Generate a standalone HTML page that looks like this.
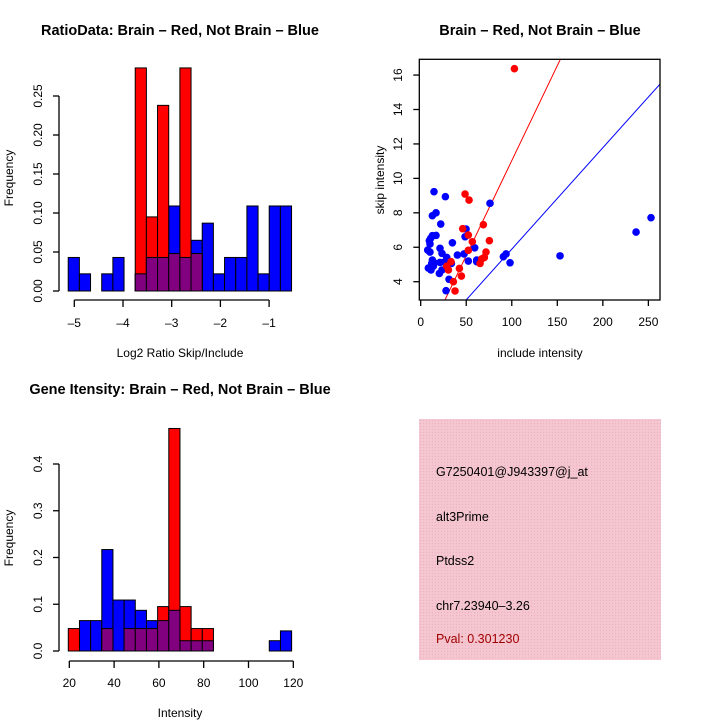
<!DOCTYPE html>
<html><head><meta charset="utf-8"><style>
body{margin:0;background:#fff;}
svg{display:block;font-family:"Liberation Sans",sans-serif;}
</style></head><body>
<svg id="c" width="720" height="720" viewBox="0 0 720 720" xmlns="http://www.w3.org/2000/svg">
<defs>
<pattern id="hatch" width="3" height="3" patternUnits="userSpaceOnUse">
<rect width="3" height="3" fill="#f5c6d0"/>
<rect width="1" height="1" fill="#e8b2c0"/>
</pattern>
</defs>
<g id="p1"></g>
<g id="p2"></g>
<g id="p3"></g>
<g id="p4">
<rect x="419" y="419" width="242" height="241" fill="url(#hatch)"/>
<text x="436" y="476" font-size="12.5">G7250401@J943397@j_at</text>
<text x="436" y="521" font-size="12.5">alt3Prime</text>
<text x="436" y="565" font-size="12.5">Ptdss2</text>
<text x="436" y="610" font-size="12.5">chr7.23940&#8211;3.26</text>
<text x="436" y="643" font-size="12.5" fill="#a00000">Pval: 0.301230</text>
</g>
</svg>
<script>
// ---- data ----
const ratioBinStart = -5.125;
const ratioBinWidth = 0.2293;
const ratioBlue = [0.043,0.022,0,0.022,0.043,0,0.022,0.043,0.043,0.109,0.043,0.065,0.087,0.022,0.043,0.043,0.109,0.022,0.109,0.109];
const ratioRed  = [0,0,0,0,0,0,0.286,0.095,0.238,0.048,0.286,0.048,0,0,0,0,0,0,0,0];
const ratioXTicks = [-5,-4,-3,-2,-1];
const ratioYTicks = [0,0.05,0.10,0.15,0.20,0.25];

const intBinStart = 19.55;
const intBinWidth = 4.985;
const intBlue = [0,0.065,0.065,0.217,0.109,0.109,0.087,0.065,0.065,0.087,0.022,0.022,0.022,0,0,0,0,0,0.022,0.043];
const intRed  = [0.048,0,0,0.048,0,0.048,0.048,0.048,0.095,0.476,0.095,0.048,0.048,0,0,0,0,0,0,0];
const intXTicks = [20,40,60,80,100,120];
const intYTicks = [0,0.1,0.2,0.3,0.4];

const blueX = [14.6,27.1,76.1,16.8,12.8,22.0,49.8,48.7,16.8,12.8,11.0,9.5,10.2,21.2,34.8,59.3,23.4,40.3,47.6,28.6,12.8,15.0,21.2,26.0,33.7,52.3,61.5,61.5,8.4,11.3,23.4,20.5,31.1,27.8,90.8,93.7,98.1,153,236.5,252.9,12.1,13.9,7.7,10.2];
const blueY = [9.23,8.94,8.55,8.0,7.83,7.35,7.06,6.61,6.69,6.67,6.52,6.38,5.72,5.94,6.26,5.97,5.64,5.55,5.61,5.41,5.26,5.10,5.12,5.14,5.06,5.2,5.16,5.26,4.79,4.68,4.68,4.48,4.14,3.48,5.45,5.61,5.1,5.5,6.88,7.72,5.06,4.9,5.84,6.19];
const redX = [102.9,48.7,53.1,46.1,68.8,52.3,75.4,56.7,52.3,71.7,69.9,67,65.2,33.3,30.4,42.5,44.7,35.9,37.7,28.6];
const redY = [16.37,9.09,8.74,7.08,7.31,6.71,6.38,6.32,5.82,5.72,5.41,5.32,5.06,5.16,4.68,4.77,4.33,4.0,3.46,4.9];
const redSlope = 0.1103;
const blueSlope = 0.0589;
const scatXTicks = [0,50,100,150,200,250];
const scatYTicks = [4,6,8,10,12,14,16];

// ---- helpers ----
const NS="http://www.w3.org/2000/svg";
function mk(parent,tag,attrs,txt){const e=document.createElementNS(NS,tag);for(const k in attrs)e.setAttribute(k,attrs[k]);if(txt!==undefined)e.textContent=txt;parent.appendChild(e);return e;}

function hist(g,cfg){
  const {binStart,binW,blue,red,xs,ys,xTicks,yTicks,yFmt,axisY,tickLblY,xlab,xlabY,title,titleY,titleX} = cfg;
  for(let i=0;i<blue.length;i++){
    const x0=xs(binStart+i*binW), x1=xs(binStart+(i+1)*binW);
    if(blue[i]>0){const r=mk(g,'rect',{x:x0,y:ys(blue[i]),width:x1-x0,height:ys(0)-ys(blue[i]),fill:'#0000ff',stroke:'#000','stroke-width':1});
      }
  }
  for(let i=0;i<red.length;i++){
    const x0=xs(binStart+i*binW), x1=xs(binStart+(i+1)*binW);
    if(red[i]>0){const r=mk(g,'rect',{x:x0,y:ys(red[i]),width:x1-x0,height:ys(0)-ys(red[i]),fill:'#ff0000',stroke:'#000','stroke-width':1});
      }
  }
  for(let i=0;i<red.length;i++){
    const m=Math.min(red[i],blue[i]);
    const x0=xs(binStart+i*binW), x1=xs(binStart+(i+1)*binW);
    if(m>0){const r=mk(g,'rect',{x:x0,y:ys(m),width:x1-x0,height:ys(0)-ys(m),fill:'#800080',stroke:'#000','stroke-width':1});
      }
  }
  // x axis
  const xa=mk(g,'g',{stroke:'#000','stroke-width':1.3,fill:'none'});
  
  mk(xa,'line',{x1:xs(xTicks[0]),x2:xs(xTicks[xTicks.length-1]),y1:axisY,y2:axisY});
  xTicks.forEach(t=>{mk(xa,'line',{x1:xs(t),x2:xs(t),y1:axisY,y2:axisY+7});
    const l=mk(g,'text',{x:xs(t),y:tickLblY,'font-size':12,'text-anchor':'middle'},t<0?'\u2013'+(-t):String(t));
    });
  // y axis
  const ya=mk(g,'g',{stroke:'#000','stroke-width':1.3,fill:'none'});
  
  mk(ya,'line',{x1:59,x2:59,y1:ys(yTicks[0]),y2:ys(yTicks[yTicks.length-1])});
  yTicks.forEach(t=>{mk(ya,'line',{x1:53,x2:59,y1:ys(t),y2:ys(t)});
    const l=mk(g,'text',{x:0,y:0,'font-size':12,'text-anchor':'middle',transform:`translate(42,${ys(t)}) rotate(-90)`},yFmt(t));
    });
  const yl=mk(g,'text',{x:0,y:0,'font-size':12,'text-anchor':'middle',transform:`translate(13,${cfg.ylabY}) rotate(-90)`},'Frequency');
  
  const xl=mk(g,'text',{x:cfg.xlabX,y:xlabY,'font-size':12,'text-anchor':'middle'},xlab);
  
  const tt=mk(g,'text',{x:titleX,y:titleY,'font-size':14.5,'font-weight':'bold','text-anchor':'middle'},title);
  
}

// plot 1
{
  const xs=v=>74.3+(v+5)*48.7;
  const ys=v=>291-v*780;
  hist(document.getElementById('p1'),{binStart:ratioBinStart,binW:ratioBinWidth,blue:ratioBlue,red:ratioRed,xs,ys,
    xTicks:ratioXTicks,yTicks:ratioYTicks,yFmt:t=>t.toFixed(2),axisY:300,tickLblY:327,
    xlab:'Log2 Ratio Skip/Include',xlabX:180,xlabY:357,ylabY:178,title:'RatioData: Brain \u2013 Red, Not Brain \u2013 Blue',titleX:180,titleY:35});
}
// plot 3
{
  const xs=v=>69.3+(v-20)*2.24;
  const ys=v=>651-v*467.5;
  hist(document.getElementById('p3'),{binStart:intBinStart,binW:intBinWidth,blue:intBlue,red:intRed,xs,ys,
    xTicks:intXTicks,yTicks:intYTicks,yFmt:t=>t.toFixed(1),axisY:661,tickLblY:687,
    xlab:'Intensity',xlabX:180,xlabY:717,ylabY:538,title:'Gene Itensity: Brain \u2013 Red, Not Brain \u2013 Blue',titleX:180,titleY:394});
}
// plot 2 scatter
{
  const g=document.getElementById('p2');
  const xs=v=>420.7+v*0.9107;
  const ys=v=>281.7-(v-4)*17.22;
  const L=419.3,R=660,T=59.3,B=300;
  const cp=mk(g,'clipPath',{id:'sc'});mk(cp,'rect',{x:L,y:T,width:R-L,height:B-T});
  const rl=mk(g,'line',{x1:xs(0),y1:ys(0),x2:xs(300),y2:ys(300*redSlope),stroke:'#ff0000','stroke-width':1,'clip-path':'url(#sc)'});
  
  const bl=mk(g,'line',{x1:xs(0),y1:ys(0),x2:xs(300),y2:ys(300*blueSlope),stroke:'#0000ff','stroke-width':1,'clip-path':'url(#sc)'});
  
  for(let i=0;i<blueX.length;i++){const c=mk(g,'circle',{cx:xs(blueX[i]),cy:ys(blueY[i]),r:3.8,fill:'#0000ff'});
    }
  for(let i=0;i<redX.length;i++){const c=mk(g,'circle',{cx:xs(redX[i]),cy:ys(redY[i]),r:3.8,fill:'#ff0000'});
    }
  const box=mk(g,'rect',{x:L,y:T,width:R-L,height:B-T,fill:'none',stroke:'#000','stroke-width':1.3});
  
  scatXTicks.forEach(t=>{mk(g,'line',{x1:xs(t),x2:xs(t),y1:B,y2:B+6,stroke:'#000','stroke-width':1.3});
    const l=mk(g,'text',{x:xs(t),y:326,'font-size':12,'text-anchor':'middle'},String(t));
    });
  mk(g,'line',{x1:xs(0),x2:xs(250),y1:B,y2:B,stroke:'#000','stroke-width':1.3,opacity:0});
  scatYTicks.forEach(t=>{mk(g,'line',{x1:L-6,x2:L,y1:ys(t),y2:ys(t),stroke:'#000','stroke-width':1.3});
    const l=mk(g,'text',{x:0,y:0,'font-size':12,'text-anchor':'middle',transform:`translate(402,${ys(t)}) rotate(-90)`},String(t));
    });
  const xl=mk(g,'text',{x:540,y:357,'font-size':12,'text-anchor':'middle'},'include intensity');
  
  const yl=mk(g,'text',{x:0,y:0,'font-size':12,'text-anchor':'middle',transform:'translate(384,180) rotate(-90)'},'skip intensity');
  
  const tt=mk(g,'text',{x:540,y:35,'font-size':14.5,'font-weight':'bold','text-anchor':'middle'},'Brain \u2013 Red, Not Brain \u2013 Blue');
  
}
</script>
</body></html>
